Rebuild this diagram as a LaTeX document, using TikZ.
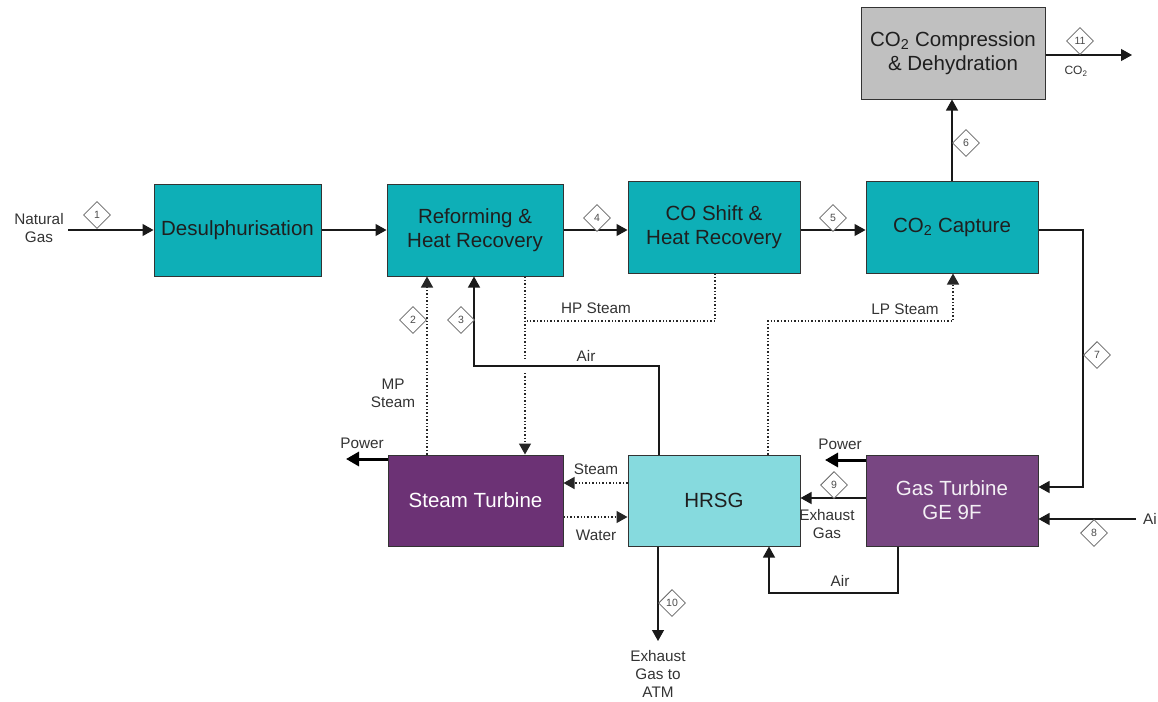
\documentclass[tikz,border=0pt]{standalone}
\usepackage{fontspec}
\setmainfont{Liberation Sans}
\usetikzlibrary{shapes.geometric,arrows.meta}
\definecolor{tealbox}{RGB}{14,175,183}
\definecolor{greybox}{RGB}{192,192,192}
\definecolor{stpurple}{RGB}{108,50,117}
\definecolor{gtpurple}{RGB}{120,70,130}
\definecolor{hrsgcol}{RGB}{134,218,222}
\begin{document}
\begin{tikzpicture}[x=1pt,y=-1pt,
  box/.style={draw=black!80, line width=1pt, rectangle, align=center, inner sep=2pt,
    font=\fontsize{20.5}{24}\selectfont, text=black!88},
  lbl/.style={font=\fontsize{15.3}{18}\selectfont, text=black!80, align=center, inner sep=0pt},
  num/.style={diamond, draw=black!60, fill=white, line width=0.8pt, minimum width=27pt,
    minimum height=27pt, inner sep=0pt, font=\fontsize{10.5}{11}\selectfont, text=black!70},
  flow/.style={draw=black!90, line width=1.2pt, -{Triangle[length=11pt,width=12pt]}},
  steamline/.style={draw=black!85, line width=1.4pt, dotted},
  steamflow/.style={steamline, -{Triangle[length=11pt,width=12pt]}},
  power/.style={draw=black, line width=3pt, -{Triangle[length=13pt,width=14pt]}}]
\useasboundingbox (0,0) rectangle (1158,701);

% boxes
\node[box, fill=tealbox, minimum width=167pt, minimum height=92pt] (desul) at (237.5,230) {Desulphurisation};
\node[box, fill=tealbox, minimum width=176pt, minimum height=92pt] (reform) at (475,230) {Reforming \&\\Heat Recovery};
\node[box, fill=tealbox, minimum width=172pt, minimum height=92pt] (shift) at (714,227) {CO Shift \&\\Heat Recovery};
\node[box, fill=tealbox, minimum width=172pt, minimum height=92pt] (capture) at (952,227) {CO\textsubscript{2} Capture};
\node[box, fill=greybox, minimum width=184pt, minimum height=91pt] (compress) at (953,53.5) {CO\textsubscript{2} Compression\\\& Dehydration};
\node[box, fill=stpurple, text=white, minimum width=175pt, minimum height=91pt] (steamt) at (475.5,500.5) {Steam Turbine};
\node[box, fill=hrsgcol, minimum width=172pt, minimum height=91pt] (hrsg) at (714,500.5) {HRSG};
\node[box, fill=gtpurple, text=white!92!gtpurple, minimum width=172pt, minimum height=91pt] (gast) at (952,500.5) {Gas Turbine\\GE 9F};

% free ends
\coordinate (ngin) at (68,230);
\coordinate (co2out) at (1132,55);
\coordinate (airin) at (1136,519);
\coordinate (exout) at (658,641);
\coordinate (stpower) at (346,459);
\coordinate (gtpower) at (825,460);

% main line
\draw[flow] (ngin) -- (desul.west);
\draw[flow] (desul.east) -- (reform.west);
\draw[flow] (reform.east) -- (reform.east -| shift.west);
\draw[flow] (shift.east |- reform.east) -- (capture.west |- reform.east);
\draw[flow] (capture.north) -- (compress.south -| capture.north);
\draw[flow] (compress.east |- co2out) -- (co2out);
\draw[flow] (capture.east |- reform.east) -- (1083,230) -- (1083,487) -- (gast.east |- 0,487);
\draw[flow] (airin) -- (gast.east |- airin);

% gas turbine to HRSG
\draw[power] (gast.west |- gtpower) -- (gtpower);
\draw[flow] (gast.west |- 0,498) -- (hrsg.east |- 0,498);
\draw[flow] (gast.south -| 898,0) -- (898,593) -- (769,593) -- (hrsg.south -| 769,0);
\draw[flow] (hrsg.south -| exout) -- (exout);

% HRSG / steam turbine
\draw[steamflow] (hrsg.west |- 0,483) -- (steamt.east |- 0,483);
\draw[steamflow] (steamt.east |- 0,517) -- (hrsg.west |- 0,517);
\draw[power] (steamt.west |- stpower) -- (stpower);

% air to reformer
\draw[flow] (hrsg.north -| 659,0) -- (659,366) -- (474,366) -- (reform.south -| 474,0);
% MP steam
\draw[steamflow] (steamt.north -| 427,0) -- (reform.south -| 427,0);
% HP steam
\draw[steamline] (reform.south -| 525,0) -- (525,359);
\draw[steamflow] (525,373) -- (steamt.north -| 525,0);
\draw[steamline] (shift.south -| 715,0) -- (715,321) -- (525,321);
% LP steam
\draw[steamflow] (hrsg.north -| 768,0) -- (768,321) -- (953,321) -- (capture.south -| 953,0);

% stream numbers
\node[num] (n1) at (97,215) {1};
\node[num] (n2) at (413,320) {2};
\node[num] (n3) at (461,320) {3};
\node[num] (n4) at (597,218) {4};
\node[num] (n5) at (833,218) {5};
\node[num] (n6) at (966,143) {6};
\node[num] (n7) at (1097,355) {7};
\node[num] (n8) at (1094,533) {8};
\node[num] (n9) at (834,485) {9};
\node[num] (n10) at (672,603) {10};
\node[num] (n11) at (1080,41) {11};

% labels
\node[lbl] (lng) at (39,228) {Natural\\Gas};
\node[lbl] (lhp) at (596,308) {HP Steam};
\node[lbl] (llp) at (905,309) {LP Steam};
\node[lbl] (lair1) at (586,356) {Air};
\node[lbl] (lmp) at (393,393) {MP\\Steam};
\node[lbl] (lpow1) at (362,443) {Power};
\node[lbl] (lsteam) at (596,469) {Steam};
\node[lbl] (lwater) at (596,535) {Water};
\node[lbl] (lpow2) at (840,444) {Power};
\node[lbl] (lexh) at (827,524) {Exhaust\\Gas};
\node[lbl] (lair2) at (840,581) {Air};
\node[lbl] (latm) at (658,674) {Exhaust\\Gas to\\ATM};
\node[lbl, font=\fontsize{12}{13}\selectfont] (lco2) at (1076,71) {CO\textsubscript{2}};
\node[lbl, anchor=west] (lai) at (1143,519) {Ai};
\end{tikzpicture}
\end{document}
